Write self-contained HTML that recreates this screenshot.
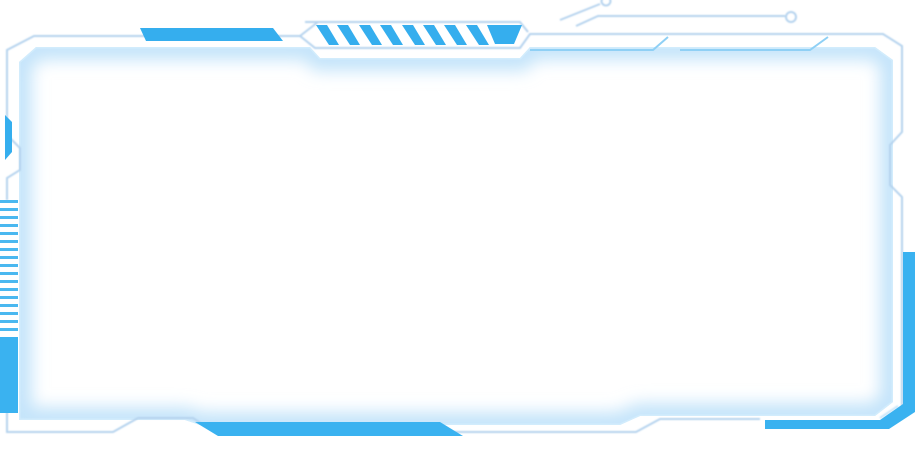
<!DOCTYPE html>
<html><head><meta charset="utf-8"><style>
html,body{margin:0;padding:0;background:#fff;width:915px;height:453px;overflow:hidden}
svg{display:block}
</style></head><body>
<svg width="915" height="453" viewBox="0 0 915 453" xmlns="http://www.w3.org/2000/svg">
<defs>
<filter id="blur" x="-10%" y="-10%" width="120%" height="120%"><feGaussianBlur stdDeviation="8"/></filter>
<filter id="soft"><feGaussianBlur stdDeviation="0.7"/></filter>
<clipPath id="panelClip"><path d="M36,47 L310,47 L320,58 L520,58 L530,47 L875,47 L893,60 L893,402 L875,416 L640,416 L620,425 L200,425 L185,420 L19,420 L19,62 Z"/></clipPath>
</defs>
<g clip-path="url(#panelClip)">
<path d="M36,47 L310,47 L320,58 L520,58 L530,47 L875,47 L893,60 L893,402 L875,416 L640,416 L620,425 L200,425 L185,420 L19,420 L19,62 Z" fill="none" stroke="#c4e4fa" stroke-width="26" filter="url(#blur)"/>
<path d="M36,47 L310,47 L320,58 L520,58 L530,47 L875,47 L893,60 L893,402 L875,416 L640,416 L620,425 L200,425 L185,420 L19,420 L19,62 Z" fill="none" stroke="#d2ecfc" stroke-width="3"/>
</g>
<g fill="none" stroke="#b5d3ee" stroke-width="2" filter="url(#soft)">
<path d="M7,135 L7,50 L34,36 L300,36 L315,48 L520,48 L530,34 L883,34 L902,46 L902,132 L890,145 L890,185 L902,197 L902,410"/>
<path d="M7,135 L20,148 L20,170 L7,178 L7,200"/>
<path d="M7,412 L7,432 L113,432 L138,418 L193,418 L205,426"/>
<path d="M440,432 L636,432 L660,419 L760,419"/>
<path d="M305,22 L520,22 L528,32"/>
<path d="M300,36 L318,22"/>
<path d="M560,20 L600,4"/>
<circle cx="606" cy="1" r="4.5"/>
<path d="M576,26 L598,16 L785,16"/>
<circle cx="791" cy="17" r="5"/>
<path d="M880,418 L898,406" stroke="#c8e4f8"/>
</g>
<g stroke="#8fd0f5" stroke-width="2" fill="none">
<path d="M530,50 L653,50 L668,37"/>
<path d="M680,50 L810,50 L828,37"/>
</g>
<polygon points="140,28 273,28 283,41 146,41" fill="#35aeee"/>
<g fill="#35aeee">
<polygon points="316,25 327,25 339,45 329,45"/>
<polygon points="337,25 348,25 360,45 350,45"/>
<polygon points="359,25 370,25 382,45 372,45"/>
<polygon points="380,25 391,25 403,45 393,45"/>
<polygon points="402,25 413,25 425,45 415,45"/>
<polygon points="423,25 434,25 446,45 436,45"/>
<polygon points="444,25 455,25 467,45 457,45"/>
<polygon points="466,25 477,25 489,45 479,45"/>
<polygon points="487,25 522,25 514,44 495,44"/>
</g>
<polygon points="5,115 12,122 12,152 5,160" fill="#35aeee"/>
<g fill="#4ab8f0">
<rect x="0" y="200" width="18" height="3"/><rect x="0" y="208" width="18" height="3"/>
<rect x="0" y="216" width="18" height="3"/><rect x="0" y="224" width="18" height="3"/>
<rect x="0" y="232" width="18" height="3"/><rect x="0" y="240" width="18" height="3"/>
<rect x="0" y="248" width="18" height="3"/><rect x="0" y="256" width="18" height="3"/>
<rect x="0" y="264" width="18" height="3"/><rect x="0" y="272" width="18" height="3"/>
<rect x="0" y="280" width="18" height="3"/><rect x="0" y="288" width="18" height="3"/>
<rect x="0" y="296" width="18" height="3"/><rect x="0" y="304" width="18" height="3"/>
<rect x="0" y="312" width="18" height="3"/><rect x="0" y="320" width="18" height="3"/>
<rect x="0" y="328" width="18" height="3"/>
</g>
<rect x="0" y="337" width="18" height="76" fill="#3ab2f0"/>
<polygon points="195,422 440,422 463,436 218,436" fill="#3ab2f0"/>
<rect x="903" y="252" width="12" height="156" fill="#3ab2f0"/>
<polygon points="765,420 880,420 903,404 915,404 915,412 889,429 765,429" fill="#3ab2f0"/>
</svg>
</body></html>
